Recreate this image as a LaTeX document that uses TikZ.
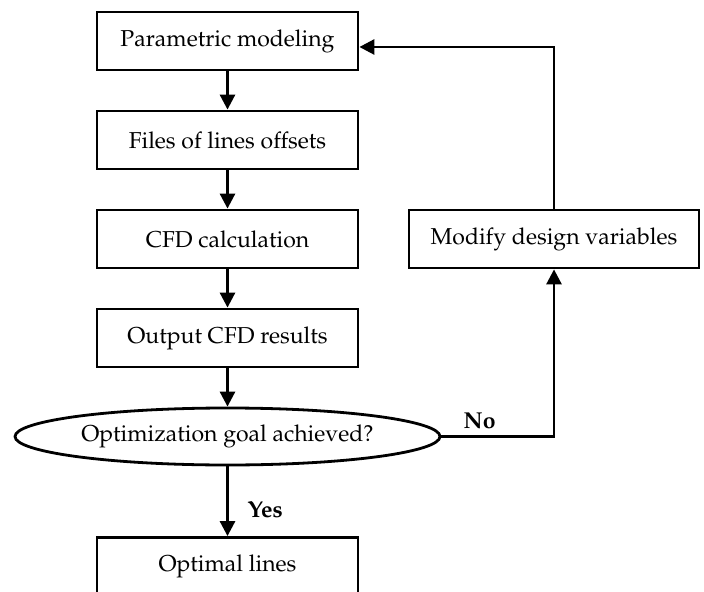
\documentclass[tikz,border=0pt]{standalone}
\usepackage[T1]{fontenc}
\usepackage{mathpazo}
\usetikzlibrary{shapes.geometric,arrows.meta,positioning,calc}

\tikzset{
  stepbox/.style={draw, line width=1.4pt, minimum width=130.5pt, minimum height=29pt,
    inner sep=0pt, font=\fontsize{11.5}{13}\selectfont},
  decision/.style={ellipse, draw, line width=1.4pt, minimum width=212.5pt,
    minimum height=28.5pt, inner sep=0pt, font=\fontsize{11.5}{13}\selectfont},
  flow/.style={-{Triangle[length=7.5pt,width=7.5pt]}, line width=1.4pt},
  answer/.style={font=\fontsize{11.5}{13}\selectfont\bfseries}
}

\begin{document}
\begin{tikzpicture}[x=0.5pt,y=-0.5pt]
    \useasboundingbox (0,0) rectangle (704,592);
    \fill[white] (0,0) rectangle (704,592);

    % Main chain
    \node[stepbox] (param) at (227.5,41) {Parametric modeling};
    \node[stepbox] (files) at (227.5,140) {Files of lines offsets};
    \node[stepbox] (cfd) at (227.5,239) {CFD calculation};
    \node[stepbox] (output) at (227.5,338) {Output CFD results};
    \node[decision] (goal) at (227.5,436.5) {Optimization goal achieved?};
    \node[stepbox] (optimal) at (227.5,566.5) {Optimal lines};

    % Feedback branch
    \node[stepbox, minimum width=145pt] (modify) at (554,239) {Modify design variables};

    \draw[flow] (param) -- (files);
    \draw[flow] (files) -- (cfd);
    \draw[flow] (cfd) -- (output);
    \draw[flow] (output) -- (goal);
    \draw[flow] (goal) -- node[answer, right=6pt, pos=0.62] {Yes} (optimal);

    % No: go modify and start over
    \draw[flow] (goal.east) -- node[answer, above, pos=0.34] {No} (goal.east -| modify.south) -- (modify.south);
    \draw[flow] (modify.north) |- ([yshift=-3pt]param.east);
\end{tikzpicture}
\end{document}
